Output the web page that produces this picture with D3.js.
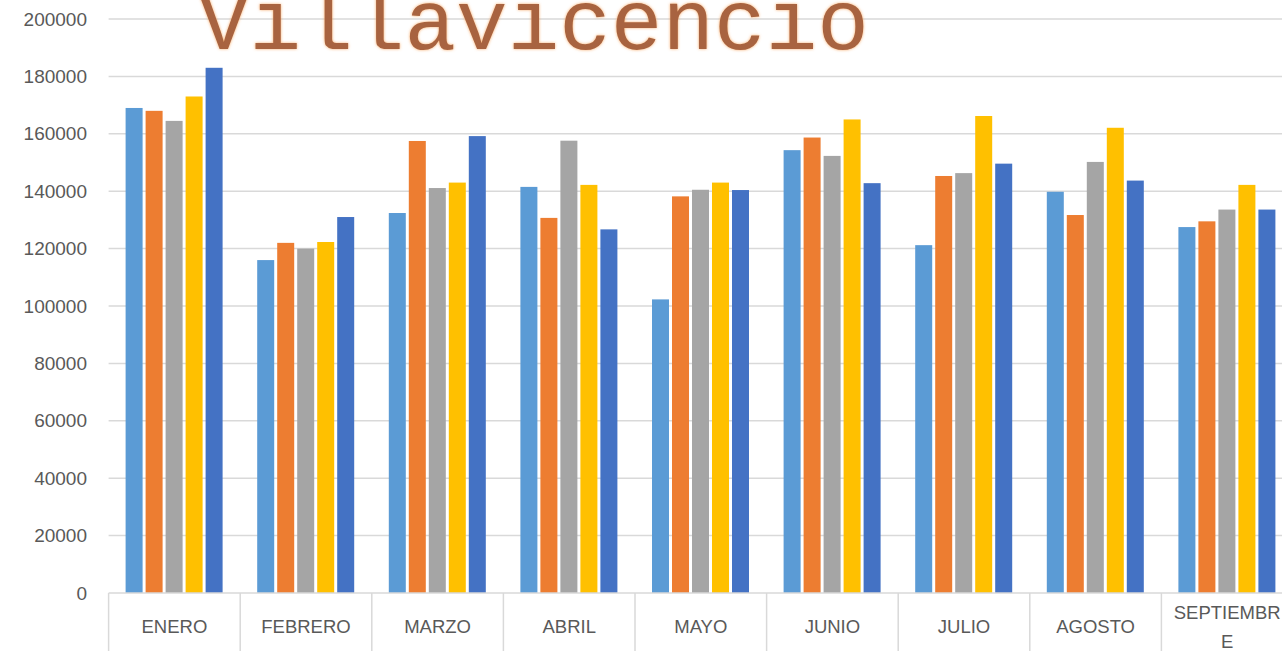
<!DOCTYPE html>
<html>
<head>
<meta charset="utf-8">
<script src="https://cdn.jsdelivr.net/npm/d3@7"></script>
<style>
  body { margin: 0; background: #fff; overflow: hidden; }
</style>
</head>
<body>
<script>
// chart data
const months = ["ENERO", "FEBRERO", "MARZO", "ABRIL", "MAYO", "JUNIO", "JULIO", "AGOSTO", "SEPTIEMBRE"];
const series1 = [169000, 116000, 132400, 141500, 102300, 154300, 121200, 139800, 127500];
const series2 = [168000, 122000, 157500, 130700, 138200, 158700, 145300, 131700, 129500];
const series3 = [164500, 120000, 141100, 157600, 140500, 152300, 146300, 150200, 133600];
const series4 = [173000, 122300, 143000, 142200, 143000, 165000, 166200, 162100, 142200];
const series5 = [183000, 131000, 159200, 126700, 140400, 142800, 149600, 143700, 133600];
const yTicks = [0, 20000, 40000, 60000, 80000, 100000, 120000, 140000, 160000, 180000, 200000];
const title = "Villavicencio";

const seriesList = [series1, series2, series3, series4, series5];
const colors = ["#5b9bd5", "#ed7d31", "#a5a5a5", "#ffc000", "#4472c4"];

const labelFont = "'Liberation Sans', Arial, sans-serif";

// svg area
var svgWidth = 1282;
var svgHeight = 651;

var margin = { top: 19, left: 108.6, bottom: 58 };
var plotBottom = svgHeight - margin.bottom;   // y of the zero line
var catWidth = 131.6;

var svg = d3.select("body")
  .append("svg")
  .attr("width", svgWidth)
  .attr("height", svgHeight);

// scales
var x0 = d3.scaleBand()
  .domain(months)
  .range([margin.left, margin.left + catWidth * months.length])
  .padding(0);

var x1 = d3.scaleBand()
  .domain(d3.range(seriesList.length))
  .range([17, 114])
  .paddingInner(0.15)
  .paddingOuter(0);

var y = d3.scaleLinear()
  .domain([0, 200000])
  .range([plotBottom, margin.top]);

// gridlines
svg.append("g")
  .selectAll("line")
  .data(yTicks.filter(d => d > 0))
  .enter()
  .append("line")
    .attr("x1", margin.left)
    .attr("x2", svgWidth)
    .attr("y1", d => y(d))
    .attr("y2", d => y(d))
    .attr("stroke", "#d9d9d9")
    .attr("stroke-width", 1.5);

// y-axis labels (no axis line, like excel)
var yAxis = d3.axisLeft(y).tickValues(yTicks).tickSize(0).tickPadding(0).tickFormat(d3.format("d"));
svg.append("g")
  .attr("transform", "translate(87,0)")
  .call(yAxis)
  .call(g => g.select(".domain").remove())
  .selectAll("text")
    .style("font-size", "19px")
    .style("font-family", labelFont)
    .attr("fill", "#595959");

// bars
var groups = svg.append("g")
  .selectAll("g")
  .data(months)
  .enter()
  .append("g")
    .attr("transform", d => `translate(${x0(d)},0)`);

groups.selectAll("rect")
  .data((m, i) => seriesList.map((s, k) => ({ k: k, v: s[i] })))
  .enter()
  .append("rect")
    .attr("x", d => x1(d.k))
    .attr("width", x1.bandwidth())
    .attr("y", d => y(d.v))
    .attr("height", d => plotBottom - y(d.v))
    .attr("fill", d => colors[d.k]);

// category axis: base line and box dividers
svg.append("line")
  .attr("x1", margin.left)
  .attr("x2", svgWidth)
  .attr("y1", plotBottom)
  .attr("y2", plotBottom)
  .attr("stroke", "#d9d9d9")
  .attr("stroke-width", 1.5);

svg.append("g")
  .selectAll("line")
  .data(months)
  .enter()
  .append("line")
    .attr("x1", d => x0(d))
    .attr("x2", d => x0(d))
    .attr("y1", plotBottom)
    .attr("y2", svgHeight)
    .attr("stroke", "#d9d9d9")
    .attr("stroke-width", 1.5);

// category labels; the long one wraps like excel does
var catLabels = svg.append("g")
  .selectAll("text")
  .data(months)
  .enter()
  .append("text")
    .attr("x", d => x0(d) + x0.bandwidth() / 2)
    .attr("y", 633)
    .attr("text-anchor", "middle")
    .style("font-size", "18.5px")
    .style("font-family", labelFont)
    .attr("fill", "#595959");

catLabels.each(function(d) {
  var t = d3.select(this);
  if (d.length > 9) {
    t.attr("y", 619);
    t.append("tspan").text(d.slice(0, 9));
    t.append("tspan")
      .attr("x", x0(d) + x0.bandwidth() / 2)
      .attr("dy", 29)
      .text(d.slice(9));
  } else {
    t.text(d);
  }
});

// title, cut off at the top like in the source picture
var defs = svg.append("defs");
var glow = defs.append("filter").attr("id", "glow").attr("x", "-5%").attr("y", "-20%").attr("width", "110%").attr("height", "140%");
glow.append("feGaussianBlur").attr("in", "SourceAlpha").attr("stdDeviation", 1.4).attr("result", "blur");
glow.append("feFlood").attr("flood-color", "#f7a35c").attr("flood-opacity", 0.9);
glow.append("feComposite").attr("in2", "blur").attr("operator", "in").attr("result", "glowCol");
var merge = glow.append("feMerge");
merge.append("feMergeNode").attr("in", "glowCol");
merge.append("feMergeNode").attr("in", "SourceGraphic");

svg.append("text")
  .attr("x", 198)
  .attr("y", 49)
  .style("font-family", "'Liberation Mono', 'Courier New', monospace")
  .style("font-size", "86px")
  .attr("fill", "#a86340")
  .attr("filter", "url(#glow)")
  .text(title);
</script>
</body>
</html>
